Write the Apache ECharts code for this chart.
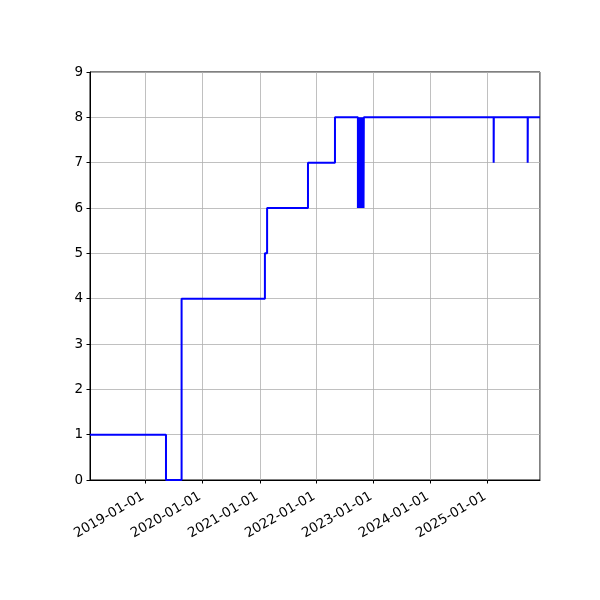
<!DOCTYPE html>
<html>
	<head>
		<meta charset="utf-8" />
		<title>step chart</title>
		<script src="https://cdn.jsdelivr.net/npm/echarts@6/dist/echarts.min.js"></script>
		<style>
			html, body { margin: 0; padding: 0; background: #fff; }
		</style>
	</head>
	<body>
		<div id="main" style="width: 600px;height: 600px;"></div>
	</body>
	<script type="text/javascript">
		// dates where the value changes, and the value from that date on
		var changeDates = [
			'2018-01-09', '2019-05-11', '2019-08-19', '2021-02-03', '2021-02-17',
			'2021-11-06', '2022-04-28',
			'2022-09-22', '2022-09-25', '2022-09-28', '2022-10-01', '2022-10-04',
			'2022-10-07', '2022-10-10', '2022-10-13', '2022-10-16', '2022-10-19',
			'2022-10-22', '2022-10-25', '2022-10-28', '2022-10-30',
			'2025-02-08', '2025-02-09', '2025-09-14', '2025-09-15', '2025-12-02'
		];
		var changeValues = [
			1, 0, 4, 5, 6,
			7, 8,
			6, 8, 6, 8, 6,
			8, 6, 8, 6, 8,
			6, 8, 6, 8,
			7, 8, 7, 8, 8
		];
		var yTicks = [0, 1, 2, 3, 4, 5, 6, 7, 8, 9];

		// expand the changes into a post-step path (value holds until the next date)
		var seriesData = [[changeDates[0], changeValues[0]]];
		for (var i = 1; i < changeDates.length; i++) {
			seriesData.push([changeDates[i], changeValues[i - 1]]);
			seriesData.push([changeDates[i], changeValues[i]]);
		}

		var chart = echarts.init(document.getElementById('main'), null, { renderer: 'canvas' });
		var font = 'DejaVu Sans';
		var option = {
			animation: false,
			backgroundColor: '#fff',
			grid: {
				left: 90,
				right: 60,
				top: 72,
				bottom: 120,
				show: true,
				borderColor: '#000',
				borderWidth: 1,
				backgroundColor: 'transparent'
			},
			xAxis: {
				type: 'time',
				min: changeDates[0],
				max: changeDates[changeDates.length - 1],
				minInterval: 365 * 24 * 3600 * 1000,
				maxInterval: 366 * 24 * 3600 * 1000,
				axisLine: { show: true, lineStyle: { color: '#000', width: 1 } },
				axisTick: { show: true, inside: false, length: 3.5, lineStyle: { color: '#000' } },
				splitLine: { show: true, lineStyle: { color: '#b0b0b0', width: 0.8 } },
				axisLabel: {
					rotate: 30,
					margin: 14,
					padding: [0, 3, 0, 0],
					color: '#000',
					fontFamily: font,
					fontSize: 13.5,
					showMinLabel: false,
					showMaxLabel: false,
					formatter: '{yyyy}-{MM}-{dd}'
				}
			},
			yAxis: {
				type: 'value',
				min: yTicks[0],
				max: yTicks[yTicks.length - 1],
				interval: 1,
				axisLine: { show: true, lineStyle: { color: '#000', width: 1 } },
				axisTick: { show: true, inside: false, length: 3.5, lineStyle: { color: '#000' } },
				splitLine: { show: true, lineStyle: { color: '#b0b0b0', width: 0.8 } },
				axisLabel: {
					margin: 7,
					color: '#000',
					fontFamily: font,
					fontSize: 13.5
				}
			},
			series: [{
				type: 'line',
				data: seriesData,
				showSymbol: false,
				symbol: 'none',
				lineStyle: { color: '#0000ff', width: 2 },
				clip: true
			}]
		};
		chart.setOption(option);
	</script>
</html>
